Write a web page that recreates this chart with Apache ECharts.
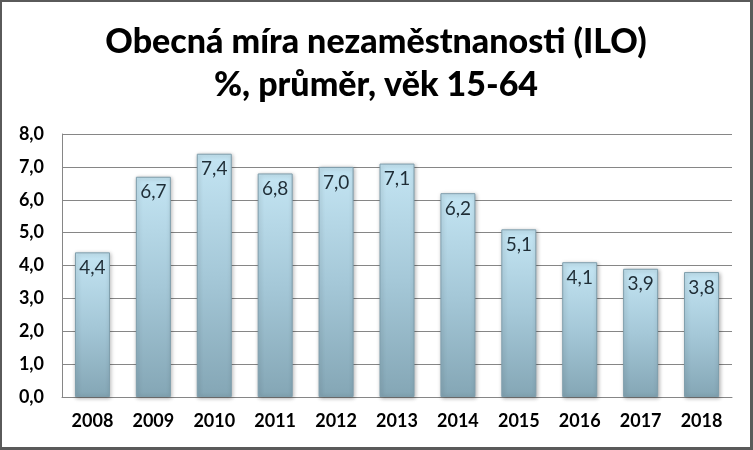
<!DOCTYPE html>
<html><head><meta charset="utf-8">
<script src="https://cdn.jsdelivr.net/npm/echarts@6/dist/echarts.min.js"></script>
<style>html,body{margin:0;padding:0;background:#fff}#c{width:753px;height:450px;box-sizing:border-box;border:2px solid #5a5a5a;border-right-width:3px;border-bottom-width:3px}</style>
</head><body><div id="c"></div>
<script>
const titleLines = ['Obecná míra nezaměstnanosti (ILO)', '%, průměr, věk 15-64'];
const categories = ['2008','2009','2010','2011','2012','2013','2014','2015','2016','2017','2018'];
const values = [4.4, 6.7, 7.4, 6.8, 7.0, 7.1, 6.2, 5.1, 4.1, 3.9, 3.8];
const yTicks = [0, 1, 2, 3, 4, 5, 6, 7, 8];

const fmt = v => v.toFixed(1).replace('.', ',');
const chart = echarts.init(document.getElementById('c'), null, {renderer: 'canvas'});
chart.setOption({
  animation: false,
  title: {
    text: titleLines.join('\n'),
    left: 'center', top: 14,
    textStyle: {fontFamily: 'Lato', fontWeight: 900, fontSize: 34, color: '#000', lineHeight: 43}
  },
  grid: {left: 60, right: 18, top: 132, bottom: 50},
  xAxis: {
    type: 'category', data: categories,
    axisLine: {show: true, lineStyle: {color: '#868686'}},
    axisTick: {show: false},
    axisLabel: {fontFamily: 'Lato', fontWeight: 'bold', fontSize: 18, color: '#000', margin: 15}
  },
  yAxis: {
    type: 'value', min: yTicks[0], max: yTicks[yTicks.length-1], interval: 1,
    axisLine: {show: true, lineStyle: {color: '#868686'}},
    axisTick: {show: false},
    splitLine: {lineStyle: {color: '#868686'}},
    axisLabel: {fontFamily: 'Lato', fontWeight: 'bold', fontSize: 18, color: '#000', margin: 18, formatter: v => fmt(v)}
  },
  series: [{
    type: 'bar', data: values, barWidth: 35,
    itemStyle: {
      color: new echarts.graphic.LinearGradient(0, 0, 0, 1, [
        {offset: 0, color: '#c4e5f3'},
        {offset: 0.5, color: '#a5c8d8'},
        {offset: 1, color: '#84a6b5'}
      ]),
      borderColor: '#7f9eac', borderWidth: 1,
      shadowColor: 'rgba(0,0,0,0.3)', shadowBlur: 4, shadowOffsetX: 1, shadowOffsetY: 1
    },
    label: {
      show: true, position: 'insideTop', distance: 6,
      fontFamily: 'Lato', fontSize: 19, color: '#1f2d36',
      formatter: p => fmt(p.value)
    }
  }]
});
</script></body></html>
